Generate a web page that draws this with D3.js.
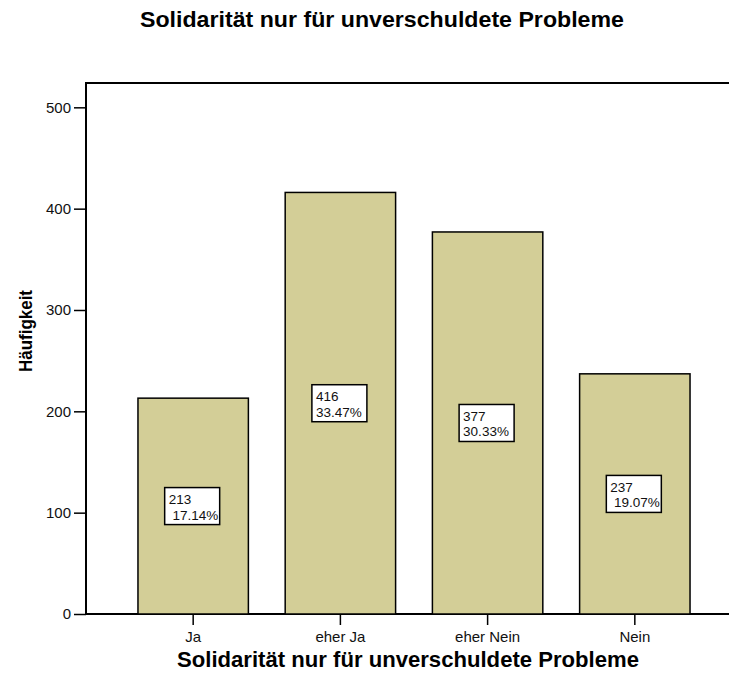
<!DOCTYPE html>
<html>
<head>
<meta charset="utf-8">
<script src="https://cdn.jsdelivr.net/npm/d3@7"></script>
<style>
  html, body { margin: 0; padding: 0; background: #fff; overflow: hidden; }
  svg { display: block; overflow: hidden; font-family: "Liberation Sans", Arial, sans-serif; }
</style>
</head>
<body>
<svg id="chart" width="729" height="675"></svg>
<script>
const categories = ["Ja", "eher Ja", "eher Nein", "Nein"];
const counts = [213, 416, 377, 237];
const percentLabels = [" 17.14%", "33.47%", "30.33%", " 19.07%"];
const yTicks = [0, 100, 200, 300, 400, 500];
const chartTitle = "Solidarität nur für unverschuldete Probleme";
const xTitle = "Solidarität nur für unverschuldete Probleme";
const yTitle = "Häufigkeit";

const svg = d3.select("#chart");
const plotLeft = 86, plotTop = 83, plotBottom = 614, plotRightEdge = 742;

const x = d3.scaleBand().domain(categories).range([plotLeft, plotRightEdge])
  .paddingInner(0.25).paddingOuter(0.353);
const y = d3.scaleLinear().domain([0, 524]).range([plotBottom, plotTop]);

// frame
svg.append("rect")
  .attr("x", plotLeft).attr("y", plotTop)
  .attr("width", 740 - plotLeft).attr("height", plotBottom - plotTop)
  .attr("fill", "none").attr("stroke", "#000").attr("stroke-width", 2);

// bars
const data = categories.map((c, i) => ({ c, v: counts[i], p: percentLabels[i] }));
svg.append("g").selectAll("rect").data(data).join("rect")
  .attr("x", d => x(d.c))
  .attr("y", d => y(d.v))
  .attr("width", x.bandwidth())
  .attr("height", d => y(0) - y(d.v))
  .attr("fill", "#d3ce97")
  .attr("stroke", "#000")
  .attr("stroke-width", 1.5);

// labels
const boxW = 55, boxH = 37;
const lg = svg.append("g").selectAll("g").data(data).join("g")
  .attr("transform", d => {
    const cx = x(d.c) + x.bandwidth() / 2 - 1;
    const cy = (y(d.v) + y(0)) / 2;
    return `translate(${cx - boxW / 2},${cy - boxH / 2})`;
  });
lg.append("rect")
  .attr("width", boxW).attr("height", boxH)
  .attr("fill", "#fff").attr("stroke", "#000").attr("stroke-width", 1.5);
lg.append("text")
  .attr("x", 4).attr("y", 16.5)
  .attr("font-size", 13.5).attr("fill", "#111")
  .text(d => String(d.v));
lg.append("text")
  .attr("x", 4).attr("y", 32)
  .attr("font-size", 13.5).attr("fill", "#111")
  .attr("xml:space", "preserve").style("white-space", "pre")
  .text(d => d.p);

// y axis
const yAxis = d3.axisLeft(y).tickValues(yTicks).tickSize(12).tickPadding(3);
const ga = svg.append("g").attr("transform", `translate(${plotLeft},0)`).call(yAxis);
ga.select(".domain").remove();
ga.selectAll(".tick line").attr("stroke", "#000").attr("stroke-width", 1.5);
ga.selectAll(".tick text").attr("font-size", 15).attr("fill", "#111")
  .attr("font-family", "Liberation Sans, Arial, sans-serif");

// x axis
const xAxis = d3.axisBottom(x).tickSize(11).tickPadding(6);
const gx = svg.append("g").attr("transform", `translate(0,${plotBottom})`).call(xAxis);
gx.select(".domain").remove();
gx.selectAll(".tick line").attr("stroke", "#000").attr("stroke-width", 1.5);
gx.selectAll(".tick text").attr("font-size", 15).attr("fill", "#111")
  .attr("font-family", "Liberation Sans, Arial, sans-serif");

// titles
svg.append("text")
  .attr("x", 382).attr("y", 27)
  .attr("text-anchor", "middle")
  .attr("font-size", 22.5).attr("font-weight", "bold").attr("fill", "#000")
  .attr("textLength", 484).attr("lengthAdjust", "spacingAndGlyphs")
  .text(chartTitle);

svg.append("text")
  .attr("x", 408).attr("y", 667)
  .attr("text-anchor", "middle")
  .attr("font-size", 21.5).attr("font-weight", "bold").attr("fill", "#000")
  .attr("textLength", 462).attr("lengthAdjust", "spacingAndGlyphs")
  .text(xTitle);

svg.append("text")
  .attr("transform", "translate(32,331) rotate(-90)")
  .attr("text-anchor", "middle")
  .attr("font-size", 18).attr("font-weight", "bold").attr("fill", "#000")
  .attr("textLength", 82).attr("lengthAdjust", "spacingAndGlyphs")
  .text(yTitle);
</script>
</body>
</html>
